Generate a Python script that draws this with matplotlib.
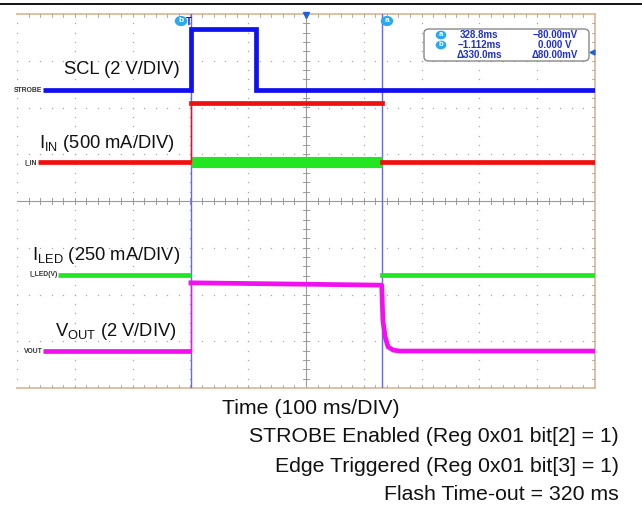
import matplotlib
matplotlib.use("Agg")
import matplotlib.pyplot as plt
from matplotlib.patches import FancyBboxPatch, Circle
from matplotlib.lines import Line2D
import numpy as np

plt.rcParams['font.family'] = ['Liberation Sans', 'DejaVu Sans']
plt.rcParams['mathtext.fontset'] = 'custom'
plt.rcParams['mathtext.rm'] = 'Liberation Sans'
plt.rcParams['mathtext.default'] = 'regular'

# ---------------- data (time in divisions, level in divisions) ----------------
strobe_t = [0.45, 3.01, 3.01, 4.13, 4.13, 10.0]
strobe_v = [6.37, 6.37, 7.68, 7.68, 6.37, 6.37]

iin_low1_t = [0.36, 3.01]
iin_low1_v = [4.83, 4.83]
iin_high_t = [3.01, 3.01, 6.31]
iin_high_v = [4.83, 6.10, 6.10]
iin_low2_t = [6.31, 10.0]
iin_low2_v = [4.83, 4.83]
iin_flash_t = [3.01, 6.31]      # green band on I_IN level during flash
iin_flash_v = [4.83, 4.83]

iled1_t = [0.71, 3.01]
iled1_v = [2.42, 2.42]
iled2_t = [6.31, 10.0]
iled2_v = [2.42, 2.42]

vout_t = [0.45, 3.01, 3.01, 6.31, 6.33, 6.37, 6.42, 6.51, 6.63, 10.0]
vout_v = [0.79, 0.79, 2.25, 2.20, 1.45, 1.09, 0.88, 0.81, 0.79, 0.79]

cursor_a = 6.31
cursor_b = 3.01

channel_labels = ["STROBE", "I_IN", "I_LED(V)", "VOUT"]
channel_levels = [6.37, 4.83, 2.42, 0.79]

readout_rows = [("328.8ms", "\u221280.00mV"), ("\u22121.112ms", "0.000 V"),
                ("\u0394330.0ms", "\u039480.00mV")]

scale_labels = ["SCL (2 V/DIV)", "I$_{IN}$ (500 mA/DIV)",
                "I$_{LED}$ (250 mA/DIV)", "V$_{OUT}$ (2 V/DIV)"]
footer_lines = ["STROBE Enabled (Reg 0x01 bit[2] = 1)",
                "Edge Triggered (Reg 0x01 bit[3] = 1)",
                "Flash Time-out = 320 ms"]

# ---------------- figure ----------------
W, H = 642, 512
fig = plt.figure(figsize=(W / 100, H / 100), dpi=100)
L, R, T, B = 17, 595, 14, 388
ax = fig.add_axes([L / W, 1 - B / H, (R - L) / W, (B - T) / H])
ax.set_xlim(0, 10)
ax.set_ylim(0, 8)
ax.axis('off')

def fx(px):
    return px / W

def fy(py):
    return 1 - py / H

# top black rule
fig.add_artist(Line2D([0, 1], [fy(4), fy(4)], color='black', lw=1.3))

# grid
gcol = '#a8a8a8'
for i in range(0, 10):
    if i == 5:
        continue
    ys = np.arange(0, 8.01, 0.2)
    ax.plot(np.full_like(ys, i), ys, ls='none', marker='s', ms=0.9, mfc=gcol, mec='none')
for j in range(1, 8):
    if j == 4:
        continue
    xs = np.arange(0, 10.01, 0.2)
    ax.plot(xs, np.full_like(xs, j), ls='none', marker='s', ms=0.9, mfc=gcol, mec='none')
# center cross
ax.plot([0, 10], [4, 4], color='#9a9a9a', lw=0.8)
ax.plot([5, 5], [0, 8], color='#9a9a9a', lw=0.8)
for x in np.arange(0.2, 10, 0.2):
    ax.plot([x, x], [3.93, 4.07], color='#9a9a9a', lw=0.7)
for y in np.arange(0.2, 8, 0.2):
    ax.plot([4.94, 5.06], [y, y], color='#9a9a9a', lw=0.7)

# frame (tan) top, bottom, right with ticks
tan = '#d9b595'
ax.plot([0, 10], [8, 8], color=tan, lw=1.2, clip_on=False)
ax.plot([0, 10], [0, 0], color=tan, lw=1.2, clip_on=False)
ax.plot([10, 10], [0, 8], color=tan, lw=1.2, clip_on=False)
for x in np.arange(0.2, 10, 0.2):
    ax.plot([x, x], [7.94, 8.0], color='#b0a090', lw=0.6)
    ax.plot([x, x], [0.0, 0.06], color='#b0a090', lw=0.6)
for y in np.arange(0.2, 8, 0.2):
    ax.plot([9.95, 10.0], [y, y], color='#b0a090', lw=0.6)

# cursors
ccol = '#6464ff'
ax.axvline(cursor_b, color=ccol, lw=1.0, zorder=2)
ax.axvline(cursor_a, color=ccol, lw=1.0, zorder=2)

# traces
lw = 3.4
blue, red, green, mag = '#1010f0', '#f01010', '#22e622', '#f010f0'
ax.plot(strobe_t, strobe_v, color=blue, lw=lw, solid_joinstyle='miter',
        solid_capstyle='butt', zorder=5)
ax.plot(strobe_t[1:3], strobe_v[1:3], color=blue, lw=1.0, zorder=5)
ax.plot(iin_low1_t, iin_low1_v, color=red, lw=lw, solid_capstyle='butt', zorder=5)
ax.plot(iin_high_t[1:], iin_high_v[1:], color=red, lw=lw, zorder=5)
ax.plot(iin_high_t[:2], iin_high_v[:2], color=red, lw=1.0, zorder=5)
ax.plot(iin_low2_t, iin_low2_v, color=red, lw=lw, zorder=5)
ax.plot(iin_flash_t, iin_flash_v, color=green, lw=8, solid_capstyle='butt', zorder=4)
ax.plot(iled1_t, iled1_v, color=green, lw=lw, solid_capstyle='butt', zorder=5)
ax.plot(iled2_t, iled2_v, color=green, lw=lw, zorder=5)
ax.plot(vout_t[:2], vout_v[:2], color=mag, lw=lw, solid_capstyle='butt', zorder=5)
ax.plot(vout_t[1:3], vout_v[1:3], color=mag, lw=1.0, zorder=5)
ax.plot(vout_t[2:], vout_v[2:], color=mag, lw=lw, zorder=5)

# channel labels (small), ending where each trace starts
for name, lev, t0 in zip(channel_labels, channel_levels,
                         [strobe_t[0], iin_low1_t[0], iled1_t[0], vout_t[0]]):
    ax.text(t0 - 0.01, lev, name, fontsize=4.9, fontweight='bold', color='#333333',
            ha='right', va='center', zorder=6)

# scale labels (big)
for lab, (rx, cy) in zip(scale_labels, [(180, 70), (175, 143), (180, 256), (177, 332)]):
    fig.text(fx(rx), fy(cy), lab, fontsize=13.2, ha='right', va='center', color='#111111')

# markers at top
lblue = '#2aa8f0'
for lab, (cx, cy) in zip(['b', 'a'], [(181, 21), (387, 21)]):
    fig.add_artist(Circle((fx(cx), fy(cy)), 5.5 / W, transform=fig.transFigure,
                          color=lblue, zorder=10))
    fig.text(fx(cx), fy(cy), lab, fontsize=6, fontweight='bold', color='white',
             ha='center', va='center', zorder=11)
fig.text(fx(186), fy(22), 'T', fontsize=7, fontweight='bold', color=blue,
         ha='left', va='center', zorder=11)
ax.plot([5], [7.97], marker='v', ms=5, color='#2060e0', clip_on=False, zorder=10)
ax.plot([9.95], [(388 - 52) / 46.75], marker='<', ms=3.5, color='#2060e0', clip_on=False, zorder=10)

# readout box
box = FancyBboxPatch((fx(424), fy(61)), (589 - 424) / W, (61 - 29) / H,
                     boxstyle='round,pad=0,rounding_size=0.008',
                     transform=fig.transFigure, fc='white', ec='#888888', lw=1.0, zorder=9)
fig.add_artist(box)
for k, ((c1, c2), cy) in enumerate(zip(readout_rows, [35, 45, 55])):
    fig.text(fx(479), fy(cy), c1, fontsize=7, fontweight='bold', color='#2030d0',
             ha='center', va='center', zorder=11)
    fig.text(fx(555), fy(cy), c2, fontsize=7, fontweight='bold', color='#2030d0',
             ha='center', va='center', zorder=11)
    if k < 2:
        cx = 441
        fig.add_artist(Circle((fx(cx), fy(cy)), 4.6 / W, transform=fig.transFigure,
                              color=lblue, zorder=10))
        fig.text(fx(cx), fy(cy), 'ab'[k], fontsize=5.5, fontweight='bold', color='white',
                 ha='center', va='center', zorder=11)

# footer texts
fig.text(fx(311), fy(409), "Time (100 ms/DIV)", fontsize=15.3, ha='center', va='center',
         color='#111111')
for line, cy in zip(footer_lines, [437, 466, 495]):
    fig.text(fx(619), fy(cy), line, fontsize=15.3, ha='right', va='center', color='#111111')

fig.savefig('out.png', dpi=100)
